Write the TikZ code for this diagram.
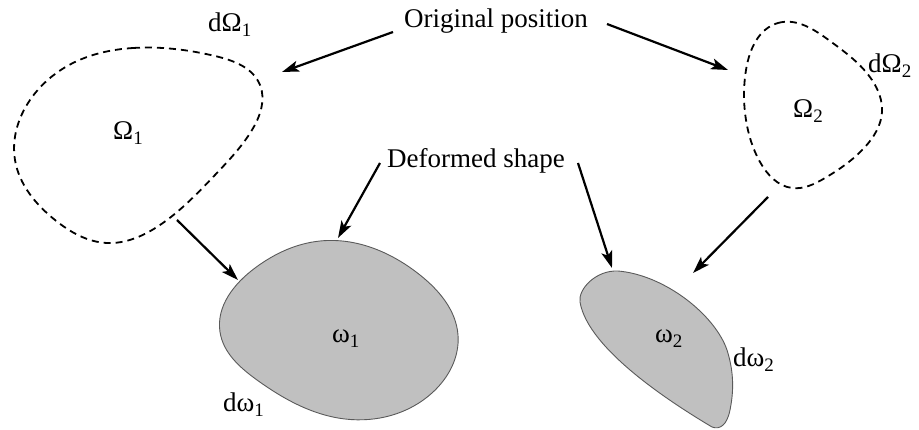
\documentclass[tikz,border=0pt]{standalone}
\usepackage{fontspec}
\setmainfont{Liberation Serif}
\usetikzlibrary{arrows.meta,hobby}
\definecolor{blobfill}{RGB}{192,192,192}
\definecolor{blobline}{RGB}{90,90,90}
\newcommand{\lowsub}[1]{\raisebox{-0.35ex}{\fontsize{19}{19}\selectfont #1}}
\begin{document}
\begin{tikzpicture}[x=1pt,y=-1pt,
  lbltext/.style={font=\fontsize{27}{30}\selectfont, inner sep=0pt, anchor=base west},
  captext/.style={font=\fontsize{27}{30}\selectfont, inner sep=0pt, anchor=base},
  origline/.style={draw=black, line width=1.8pt, dash pattern=on 7pt off 5pt},
  defblob/.style={draw=blobline, line width=0.9pt, fill=blobfill},
  conn/.style={line width=2.2pt, -{Stealth[length=17pt,width=11pt,inset=4pt]}}]
\useasboundingbox (0,0) rectangle (919,430);

% original shapes
\draw[origline, use Hobby shortcut, closed=true]
  (133,48) .. (215,56) .. (260,85) .. (252,130) .. (215,175) .. (160,225) .. (107,243) .. (55,220) .. (15,160) .. (30,100) .. (75,62);
\draw[origline, use Hobby shortcut, closed=true]
  (778,23) .. (830,41) .. (872,80) .. (882,112) .. (865,147) .. (825,178) .. (792,188) .. (760,162) .. (746,120) .. (746,70);

% deformed shapes
\draw[defblob, use Hobby shortcut, closed=true]
  (320,241) .. (420,275) .. (458,335) .. (432,393) .. (345,419) .. (257,380) .. (220,332) .. (255,268);
\draw[defblob]
  (618,271) .. controls (665,275) and (715,315) .. (727,350)
  .. controls (735,375) and (733,395) .. (730,410)
  .. controls (727,425) and (720,430) .. (712,427)
  .. controls (675,405) and (588,350) .. (580,302)
  .. controls (578,289) and (596,270) .. (618,271) -- cycle;

% labels
\node[captext] (orig) at (496,28) {Original position};
\node[captext] (def) at (476,168) {Deformed shape};
\node[lbltext] (dO1) at (208,32) {dΩ\lowsub{1}};
\node[lbltext] (O1) at (113,140) {Ω\lowsub{1}};
\node[lbltext] (dO2) at (868,73) {dΩ\lowsub{2}};
\node[lbltext] (O2) at (793,118) {Ω\lowsub{2}};
\node[lbltext] (w1) at (332,343) {ω\lowsub{1}};
\node[lbltext] (dw1) at (223,412) {dω\lowsub{1}};
\node[lbltext] (w2) at (655,343) {ω\lowsub{2}};
\node[lbltext] (dw2) at (733,367) {dω\lowsub{2}};

% connector ends
\coordinate (oa) at (393,32);
\coordinate (ta) at (282,72);
\coordinate (ob) at (607,24);
\coordinate (tb) at (728,70);
\coordinate (da) at (380,163);
\coordinate (tc) at (338,238);
\coordinate (db) at (578,163);
\coordinate (td) at (612,268);
\coordinate (s1) at (177,220);
\coordinate (e1) at (238,280);
\coordinate (s2) at (768,197);
\coordinate (e2) at (693,273);

\draw[conn] (oa) -- (ta);
\draw[conn] (ob) -- (tb);
\draw[conn] (da) -- (tc);
\draw[conn] (db) -- (td);
\draw[conn] (s1) -- (e1);
\draw[conn] (s2) -- (e2);
\end{tikzpicture}
\end{document}
